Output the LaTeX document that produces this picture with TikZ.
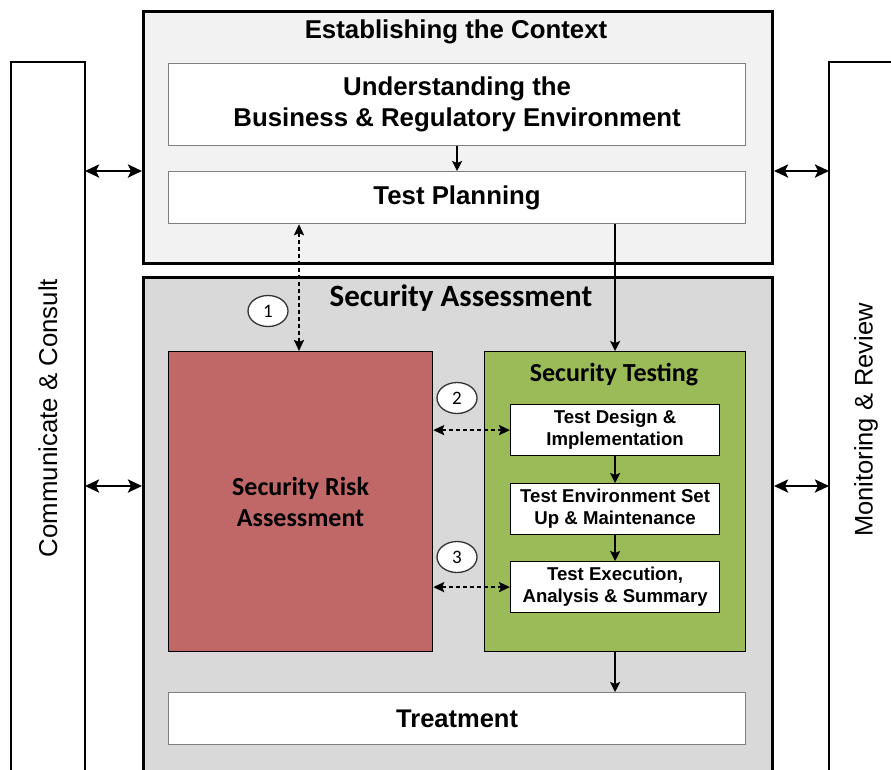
\documentclass[tikz,border=0pt]{standalone}
\usepackage{fontspec}
\setmainfont{Liberation Sans}
\newfontfamily\calfont{Carlito}
\usetikzlibrary{arrows.meta,positioning,calc,shapes.geometric}
\definecolor{ctxfill}{HTML}{F2F2F2}
\definecolor{safill}{HTML}{D9D9D9}
\definecolor{riskfill}{HTML}{C06868}
\definecolor{testfill}{HTML}{9BBB59}
\definecolor{boxline}{HTML}{7F7F7F}
\tikzset{
  outerbox/.style={draw=black,line width=3pt},
  innerbox/.style={draw=boxline,fill=white,line width=1.2pt},
  colbox/.style={draw=black,fill=white,line width=1.2pt},
  flow/.style={-{Stealth[length=10pt,width=10pt,inset=2pt]},line width=1.8pt},
  both/.style={{Stealth[length=14pt,width=13pt,inset=3pt]}-{Stealth[length=14pt,width=13pt,inset=3pt]},line width=2.6pt},
  dashboth/.style={{Stealth[length=11pt,width=10pt,inset=2pt]}-{Stealth[length=11pt,width=10pt,inset=2pt]},line width=2.2pt,dash pattern=on 4pt off 3pt},
  numcirc/.style={draw=black!80,fill=white,ellipse,line width=1.3pt,minimum width=40pt,minimum height=31pt,inner sep=0pt,font=\calfont\fontsize{19}{21}\selectfont},
}
\begin{document}
\begin{tikzpicture}[x=1pt,y=-1pt]
\useasboundingbox (0,0) rectangle (891,769);
\clip (0,0) rectangle (891,769);
\fill[white] (0,0) rectangle (891,769);
% side columns
\draw[colbox] (11,800) -- (11,62) -- (85,62) -- (85,800);
\node[rotate=90,font=\fontsize{25.8}{28}\selectfont] (cc) at (48,418) {Communicate \& Consult};
\draw[colbox] (829,800) -- (829,62) -- (900,62);
\node[rotate=90,font=\fontsize{25.5}{28}\selectfont] (mr) at (866,420) {Monitoring \& Review};
\coordinate (lc1) at (85,171);
\coordinate (lc2) at (85,486);
\coordinate (rc1) at (829,171);
\coordinate (rc2) at (829,486);
% context box
\node[outerbox,fill=ctxfill,minimum width=629pt,minimum height=252pt,anchor=north west,inner sep=0pt] (ctx) at (142,10) {};
\node[font=\bfseries\fontsize{25.8}{28}\selectfont] (ctxt) at (456,32) {Establishing the Context};
\node[innerbox,minimum width=577pt,minimum height=82pt,anchor=north west,inner sep=0pt,align=center,font=\bfseries\fontsize{25.8}{31}\selectfont] (ubr) at (168,63) {Understanding the\\Business \& Regulatory Environment};
\node[innerbox,minimum width=577pt,minimum height=52pt,anchor=north west,inner sep=0pt,font=\bfseries\fontsize{25.8}{28}\selectfont] (tp) at (168,171) {Test Planning};
% security assessment
\node[outerbox,fill=safill,minimum width=629pt,minimum height=520pt,anchor=north west,inner sep=0pt] (sa) at (142,276) {};
\node[font=\calfont\bfseries\fontsize{31}{34}\selectfont] (sat) at (461,298) {Security Assessment};
\node[draw=black,line width=1.2pt,fill=riskfill,minimum width=264pt,minimum height=300pt,anchor=north west,inner sep=0pt,align=center,font=\calfont\bfseries\fontsize{26}{31}\selectfont] (sra) at (168,351) {Security Risk\\Assessment};
\node[draw=black,line width=1.2pt,fill=testfill,minimum width=261pt,minimum height=300pt,anchor=north west,inner sep=0pt] (st) at (484,351) {};
\node[font=\calfont\bfseries\fontsize{26}{28}\selectfont] (stt) at (614,375) {Security Testing};
\tikzset{tbox/.style={draw=black,line width=1.2pt,fill=white,minimum width=209pt,minimum height=51pt,anchor=north west,inner sep=0pt,align=center,font=\bfseries\fontsize{18.6}{22}\selectfont}}
\node[tbox] (td) at (510,404) {Test Design \&\\Implementation};
\node[tbox] (te) at (510,483) {Test Environment Set\\Up \& Maintenance};
\node[tbox] (tx) at (510,561) {Test Execution,\\Analysis \& Summary};
\node[innerbox,minimum width=577pt,minimum height=52pt,anchor=north west,inner sep=0pt,font=\bfseries\fontsize{25.5}{28}\selectfont] (tr) at (168,692) {Treatment};
% flows
\draw[flow] (ubr.south) -- (tp.north);
\draw[flow] (tp.south -| td.north) -- (st.north -| td.north);
\draw[flow] (td.south) -- (te.north);
\draw[flow] (te.south) -- (tx.north);
\draw[flow] (st.south -| td.south) -- (tr.north -| td.south);
% dashed
\draw[dashboth] (tp.south -| 299,0) -- (sra.north -| 299,0);
\draw[dashboth] (sra.east |- td.west) -- (td.west);
\draw[dashboth] (sra.east |- tx.west) -- (tx.west);
\node[numcirc] (n1) at (268,311) {1};
\node[numcirc] (n2) at (457,398) {2};
\node[numcirc] (n3) at (457,557) {3};
% side arrows
\draw[both] (lc1) -- (ctx.west |- lc1);
\draw[both] (ctx.east |- rc1) -- (rc1);
\draw[both] (lc2) -- (sa.west |- lc2);
\draw[both] (sa.east |- rc2) -- (rc2);
\end{tikzpicture}
\end{document}
